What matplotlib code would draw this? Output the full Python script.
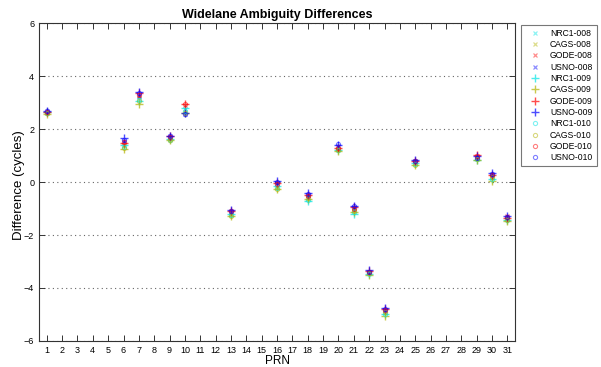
import matplotlib
matplotlib.use("Agg")
import matplotlib.pyplot as plt

plt.rcParams['font.family'] = ['Liberation Sans', 'DejaVu Sans']

prn = [1, 6, 7, 9, 10, 13, 16, 18, 20, 21, 22, 23, 25, 29, 30, 31]

series_names = ["NRC1-008", "CAGS-008", "GODE-008", "USNO-008",
                "NRC1-009", "CAGS-009", "GODE-009", "USNO-009",
                "NRC1-010", "CAGS-010", "GODE-010", "USNO-010"]

nrc1_008 = [2.62, 1.35, 3.15, 1.62, 2.75, -1.25, -0.20, -0.62, 1.22, -1.10, -3.45, -4.95, 0.68, 0.88, 0.15, -1.40]
cags_008 = [2.60, 1.40, 3.20, 1.60, 2.65, -1.22, -0.22, -0.60, 1.25, -1.05, -3.42, -4.90, 0.70, 0.90, 0.20, -1.38]
gode_008 = [2.65, 1.50, 3.30, 1.70, 2.90, -1.10, -0.05, -0.50, 1.30, -0.98, -3.38, -4.85, 0.78, 0.98, 0.28, -1.30]
usno_008 = [2.68, 1.55, 3.25, 1.72, 2.55, -1.15, -0.02, -0.48, 1.35, -0.95, -3.40, -4.82, 0.80, 0.95, 0.32, -1.32]
nrc1_009 = [2.63, 1.38, 3.05, 1.62, 2.80, -1.20, -0.15, -0.72, 1.20, -1.20, -3.48, -4.98, 0.72, 0.85, 0.10, -1.45]
cags_009 = [2.58, 1.25, 2.95, 1.58, 2.60, -1.30, -0.25, -0.65, 1.18, -1.15, -3.50, -5.05, 0.65, 0.82, 0.05, -1.48]
gode_009 = [2.66, 1.48, 3.35, 1.72, 2.95, -1.08, -0.05, -0.50, 1.28, -0.95, -3.35, -4.80, 0.80, 1.02, 0.28, -1.35]
usno_009 = [2.70, 1.65, 3.40, 1.75, 2.60, -1.05, 0.05, -0.42, 1.38, -0.90, -3.33, -4.75, 0.83, 0.97, 0.35, -1.28]
nrc1_010 = [2.62, 1.33, 3.10, 1.60, 2.70, -1.25, -0.22, -0.68, 1.20, -1.12, -3.46, -4.97, 0.68, 0.86, 0.12, -1.42]
cags_010 = [2.60, 1.30, 3.05, 1.57, 2.62, -1.28, -0.25, -0.60, 1.22, -1.08, -3.44, -4.92, 0.66, 0.88, 0.18, -1.45]
gode_010 = [2.65, 1.50, 3.30, 1.70, 2.95, -1.10, -0.08, -0.52, 1.30, -1.00, -3.38, -4.85, 0.78, 1.00, 0.25, -1.33]
usno_010 = [2.68, 1.60, 3.35, 1.72, 2.58, -1.10, 0.00, -0.45, 1.42, -0.92, -3.40, -4.80, 0.80, 0.92, 0.30, -1.32]

all_series = [nrc1_008, cags_008, gode_008, usno_008,
              nrc1_009, cags_009, gode_009, usno_009,
              nrc1_010, cags_010, gode_010, usno_010]

station_colors = ['#00e5e5', '#b3b300', '#ff0000', '#0000ff']
markers = ['x', '+', 'o']

fig = plt.figure(figsize=(6.01, 3.67), dpi=100)
ax = fig.add_axes([0.065, 0.071, 0.792, 0.866])

handles = []
for i, (name, vals) in enumerate(zip(series_names, all_series)):
    m = markers[i // 4]
    c = station_colors[i % 4]
    if m == 'x':
        h, = ax.plot(prn, vals, linestyle='none', marker='x', ms=3.5, mew=0.9,
                     color=c, alpha=0.45, label=name)
    elif m == '+':
        h, = ax.plot(prn, vals, linestyle='none', marker='+', ms=6, mew=1.0,
                     color=c, alpha=0.7, label=name)
    else:
        h, = ax.plot(prn, vals, linestyle='none', marker='o', ms=3, mew=0.8,
                     mfc='none', mec=c, alpha=0.5, label=name)
    handles.append(h)

ax.set_xlim(0.5, 31.5)
ax.set_ylim(-6, 6)
ax.set_xticks(range(1, 32))
ax.set_yticks(range(-6, 7, 2))
ax.tick_params(direction='in', labelsize=6.5, top=True, right=True,
               length=4, width=0.7, colors='#333333', labelcolor='black')
for s in ax.spines.values():
    s.set_linewidth(0.8)
    s.set_color('#333333')
ax.yaxis.grid(True, linestyle=(0, (1, 3)), color='#666666', linewidth=0.8)
ax.set_axisbelow(True)

ax.set_title('Widelane Ambiguity Differences', fontsize=9, fontweight='bold', pad=4)
ax.set_xlabel('PRN', fontsize=8.5, labelpad=0)
ax.set_ylabel('Difference (cycles)', fontsize=9.5)
ax.yaxis.set_label_coords(-0.03, 0.49)

leg = fig.legend(handles=handles, loc='upper left', bbox_to_anchor=(0.867, 0.932),
                 fontsize=6.2, frameon=True, fancybox=False, edgecolor='#555555',
                 handlelength=2.4, handletextpad=0.5, labelspacing=0.27,
                 borderpad=0.45, borderaxespad=0)
leg.get_frame().set_linewidth(0.8)

fig.savefig('out.png', dpi=100)
